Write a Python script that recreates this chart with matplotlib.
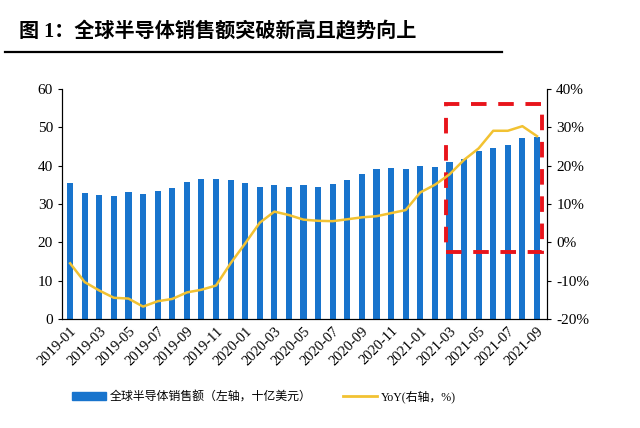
import matplotlib.pyplot as plt
from matplotlib.patches import Rectangle
from matplotlib.lines import Line2D

plt.rcParams['font.family'] = ['Liberation Serif', 'Noto Sans CJK SC']

# Monthly data 2019-01 .. 2021-09
months = [f"{y}-{m:02d}" for y in (2019, 2020, 2021) for m in range(1, 13)][:33]
sales = [35.4, 32.8, 32.3, 32.1, 33.0, 32.7, 33.4, 34.2, 35.6, 36.6, 36.6, 36.2,
         35.4, 34.5, 34.9, 34.4, 35.0, 34.5, 35.2, 36.3, 37.8, 39.0, 39.5, 39.2,
         40.0, 39.6, 41.0, 41.8, 43.7, 44.5, 45.5, 47.2, 47.6]
yoy = [-5.5, -10.4, -12.6, -14.5, -14.7, -16.8, -15.4, -14.8, -13.1, -12.4, -11.3, -5.5,
       -0.3, 5.1, 8.0, 7.1, 5.9, 5.6, 5.5, 6.0, 6.5, 6.8, 7.6, 8.4,
       13.0, 15.0, 17.7, 21.5, 24.5, 29.1, 29.1, 30.3, 27.7]

bar_color = "#1874CD"
line_color = "#F2C232"

fig = plt.figure(figsize=(6.4, 4.28), dpi=100)
ax = fig.add_axes([0.097, 0.255, 0.758, 0.537])
x = list(range(len(months)))

ax.bar(x, sales, width=0.42, color=bar_color, zorder=2)
ax.set_ylim(0, 60)
ax.set_xlim(-0.55, len(months) - 0.3)
ax.set_yticks(range(0, 61, 10))
ax.set_xticks(x[::2])
ax.set_xticklabels(months[::2], rotation=45, ha="right", rotation_mode="anchor", fontsize=10.5)
ax.tick_params(axis="x", length=0, pad=4)
ax.tick_params(axis="y", direction="out", length=3, labelsize=11)
ax.spines["top"].set_visible(False)

ax2 = ax.twinx()
ax2.plot(x, yoy, color=line_color, lw=1.8, zorder=3)
ax2.set_ylim(-20, 40)
ax2.set_yticks(range(-20, 41, 10))
ax2.set_yticklabels([f"{v}%" for v in range(-20, 41, 10)])
ax2.tick_params(axis="y", direction="out", length=3, labelsize=11)
ax2.spines["top"].set_visible(False)

# red dashed highlight box
ax.add_patch(Rectangle((25.75, 17.5), 6.6, 38.6, fill=False, edgecolor="#E8141B",
                       lw=2.8, linestyle=(0, (4, 3)), zorder=5, clip_on=False))

# title and rule
fig.text(0.03, 0.912, "图 1：全球半导体销售额突破新高且趋势向上",
         fontsize=14.5, fontweight="bold")
fig.add_artist(Line2D([0.008, 0.785], [0.878, 0.878], color="black", lw=1.6))

handles = [Rectangle((0, 0), 1, 1, color=bar_color),
           Line2D([0], [0], color=line_color, lw=2)]
labels = ["全球半导体销售额（左轴，十亿美元）", "YoY(右轴，%)"]
fig.legend(handles, labels, loc="center left", bbox_to_anchor=(0.095, 0.073), ncol=2,
           frameon=False, columnspacing=2.6, handlelength=2.9,
           handleheight=0.6, handletextpad=0.3,
           prop={'family': ['Liberation Serif', 'Noto Sans CJK SC'], 'size': 8.6})

fig.savefig("out.png", dpi=100)
